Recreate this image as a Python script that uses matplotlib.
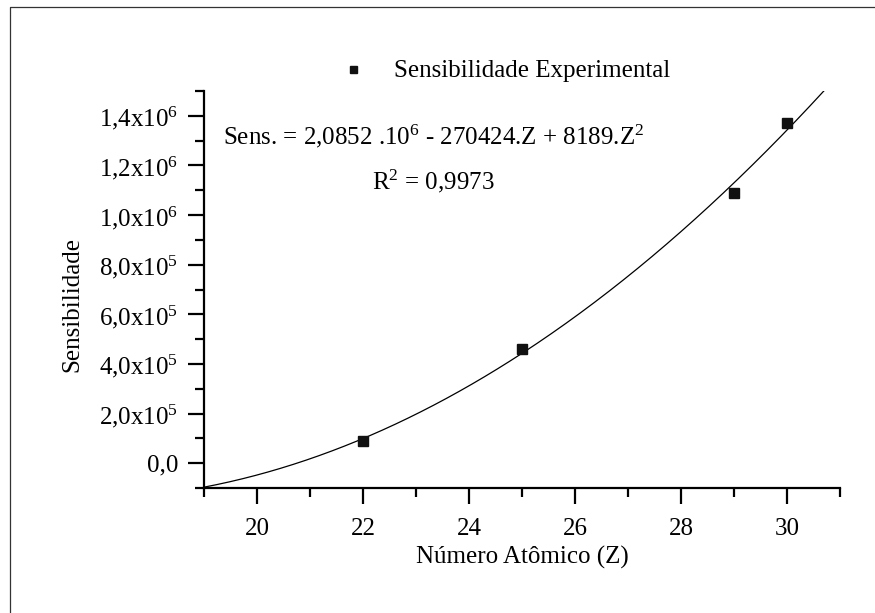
import numpy as np
import matplotlib
matplotlib.use("Agg")
import matplotlib.pyplot as plt
from matplotlib.lines import Line2D
from matplotlib.ticker import FixedLocator, MultipleLocator

plt.rcParams['font.family'] = ['Liberation Serif', 'DejaVu Serif']
plt.rcParams['mathtext.fontset'] = 'custom'
plt.rcParams['mathtext.rm'] = 'Liberation Serif'
plt.rcParams['mathtext.it'] = 'Liberation Serif:italic'
plt.rcParams['mathtext.bf'] = 'Liberation Serif:bold'

# Experimental sensitivity per atomic number
z_values = [22, 25, 29, 30]
sensitivity = [9.0e4, 4.6e5, 1.09e6, 1.37e6]

# Quadratic fit: Sens = c0 + c1*Z + c2*Z^2
fit_coeffs = [2.0852e6, -270424.0, 8189.0]
r_squared = "0,9973"

x_ticks = [20, 22, 24, 26, 28, 30]
x_tick_labels = ["20", "22", "24", "26", "28", "30"]
y_ticks = [0, 2e5, 4e5, 6e5, 8e5, 1.0e6, 1.2e6, 1.4e6]
y_tick_labels = ["0,0",
                 r"2,0x10$^{\mathrm{5}}$", r"4,0x10$^{\mathrm{5}}$",
                 r"6,0x10$^{\mathrm{5}}$", r"8,0x10$^{\mathrm{5}}$",
                 r"1,0x10$^{\mathrm{6}}$", r"1,2x10$^{\mathrm{6}}$",
                 r"1,4x10$^{\mathrm{6}}$"]

W, H = 875, 613
fig = plt.figure(figsize=(W / 100, H / 100), dpi=100)
ax = fig.add_axes([204 / W, 1 - 488 / H, 636 / W, 397 / H])

FS = 18

zz = np.linspace(19, 31, 400)
fit_curve = fit_coeffs[0] + fit_coeffs[1] * zz + fit_coeffs[2] * zz ** 2
ax.plot(zz, fit_curve, color='black', lw=0.9)
ax.plot(z_values, sensitivity, linestyle='none', marker='s', ms=7.2,
        color='#111111', label='Sensibilidade Experimental')

ax.set_xlim(19, 31)
ax.set_ylim(-1e5, 1.5e6)

ax.xaxis.set_major_locator(FixedLocator(x_ticks))
ax.set_xticklabels(x_tick_labels)
ax.xaxis.set_minor_locator(MultipleLocator(1))
ax.yaxis.set_major_locator(FixedLocator(y_ticks))
ax.set_yticklabels(y_tick_labels)
ax.yaxis.set_minor_locator(MultipleLocator(1e5))

for side in ('top', 'right'):
    ax.spines[side].set_visible(False)
for side in ('left', 'bottom'):
    ax.spines[side].set_linewidth(1.6)

ax.tick_params(which='major', direction='out', length=11.5, width=1.6,
               labelsize=FS)
ax.tick_params(which='minor', direction='out', length=6.5, width=1.6)
ax.tick_params(axis='x', which='major', pad=10)
ax.tick_params(axis='y', which='major', pad=7)

ax.set_xlabel('Número Atômico (Z)', fontsize=FS)
ax.xaxis.label.set_va('center')
ax.xaxis.set_label_coords(0.5, (488 - 557) / 397)
ax.set_ylabel('Sensibilidade', fontsize=FS)
ax.yaxis.label.set_va('center')
ax.yaxis.set_label_coords((72 - 204) / 636, (488 - 305) / 397)

ax.legend(loc='center left', bbox_to_anchor=(340 / W, 1 - 71 / H),
          bbox_transform=fig.transFigure, frameon=False, fontsize=FS,
          borderaxespad=0, borderpad=0, handlelength=1.0,
          handletextpad=1.17, markerscale=0.7)

eq = (r"Sens. = 2,0852 .10$^{\mathrm{6}}$ - 270424.Z + 8189.Z$^{\mathrm{2}}$")
fig.text(223 / W, 1 - 136 / H, eq, fontsize=FS, ha='left', va='center')
fig.text(372 / W, 1 - 181 / H, r"R$^{\mathrm{2}}$ = " + r_squared,
         fontsize=FS, ha='left', va='center')

# page frame
fig.add_artist(Line2D([10 / W, 10 / W, 1.0], [0.0, 1 - 7 / H, 1 - 7 / H],
                      transform=fig.transFigure, color='#333333', lw=0.9))

fig.savefig('out.png', dpi=100)
